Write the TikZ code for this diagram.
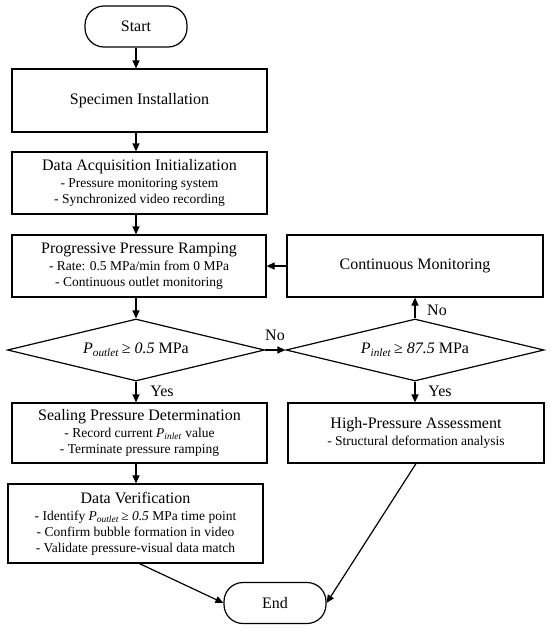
\documentclass[tikz,border=0pt]{standalone}
\usepackage{fontspec}
\setmainfont{Liberation Serif}
\usetikzlibrary{shapes.geometric,arrows.meta,calc}
\newcommand\ttlfont{\fontsize{16}{17}\selectfont}
\newcommand\bulfont{\fontsize{13.5}{16}\selectfont}
\begin{document}
\begin{tikzpicture}[x=1pt,y=-1pt,
  box/.style={draw,line width=1.2pt,inner sep=0pt,align=center,font=\bulfont},
  term/.style={draw,line width=1.2pt,rounded corners=19pt,inner sep=0pt,minimum width=102pt,minimum height=41pt,font=\ttlfont},
  dia/.style={draw,diamond,line width=1.2pt,aspect=4.13,inner sep=0pt,minimum width=257pt,minimum height=62pt,font=\ttlfont},
  arr/.style={line width=1.2pt,-{Triangle[length=8pt,width=7pt]}},
  plain/.style={line width=1.2pt},
  lab/.style={font=\ttlfont,inner sep=0pt}]
\useasboundingbox (0,0) rectangle (550,632);
\coordinate (cl) at (136,0);

\node[term] (start) at (136,26.5) {Start};
\node[box,minimum width=255pt,minimum height=63pt,font=\ttlfont] (spec) at (139.5,100.5) {Specimen Installation};
\node[box,minimum width=255pt,minimum height=62pt] (daq) at (139.5,183) {{\ttlfont Data Acquisition Initialization}\\[1pt] - Pressure monitoring system\\ - Synchronized video recording};
\node[box,minimum width=254pt,minimum height=62pt] (prog) at (139,266) {{\ttlfont Progressive Pressure Ramping}\\[1pt] - Rate: 0.5 MPa/min from 0 MPa\\ - Continuous outlet monitoring};
\node[box,minimum width=256pt,minimum height=62pt,font=\ttlfont] (cont) at (415,266) {Continuous Monitoring};
\node[dia] (d1) at (136,350) {\textit{P}\textsubscript{\textit{outlet}}\,≥ \textit{0.5} MPa};
\node[dia,minimum width=258pt] (d2) at (415,350) {\textit{P}\textsubscript{\textit{inlet}}\,≥ \textit{87.5} MPa};
\node[box,minimum width=255pt,minimum height=60pt] (seal) at (139.5,433) {{\ttlfont Sealing Pressure Determination}\\[1pt] - Record current \textit{P}\textsubscript{\textit{inlet}} value\\ - Terminate pressure ramping};
\node[box,minimum width=256pt,minimum height=60pt] (hp) at (416,433) {{\ttlfont High-Pressure Assessment}\\[1pt] - Structural deformation analysis};
\node[box,minimum width=255pt,minimum height=79pt] (dv) at (135.5,523.5) {{\ttlfont Data Verification}\\[1pt] - Identify \textit{P}\textsubscript{\textit{outlet}}\,≥ \textit{0.5} MPa time point\\ - Confirm bubble formation in video\\ - Validate pressure-visual data match};
\node[term] (end) at (275,603) {End};

\draw[arr] (start.south) -- (spec.north -| cl);
\draw[arr] (spec.south -| cl) -- (daq.north -| cl);
\draw[arr] (daq.south -| cl) -- (prog.north -| cl);
\draw[arr] (prog.south -| cl) -- (d1.north);
\draw[arr] (d1.south) -- (seal.north -| cl);
\draw[arr] (seal.south -| cl) -- (dv.north -| cl);
\draw[arr] (d1.east) -- (d2.west);
\draw[arr] (d2.north) -- (cont.south -| d2.north);
\draw[arr] (cont.west) -- (prog.east);
\draw[arr] (d2.south) -- (hp.north -| d2.south);
\draw[arr] ($(dv.south)+(4,0)$) -- (end.west);
\draw[arr] (hp.south) -- (end.east);

\node[lab] (no1) at (275,335) {No};
\node[lab] (no2) at (437,310) {No};
\node[lab] (yes1) at (162,391) {Yes};
\node[lab] (yes2) at (440,391) {Yes};
\end{tikzpicture}
\end{document}
